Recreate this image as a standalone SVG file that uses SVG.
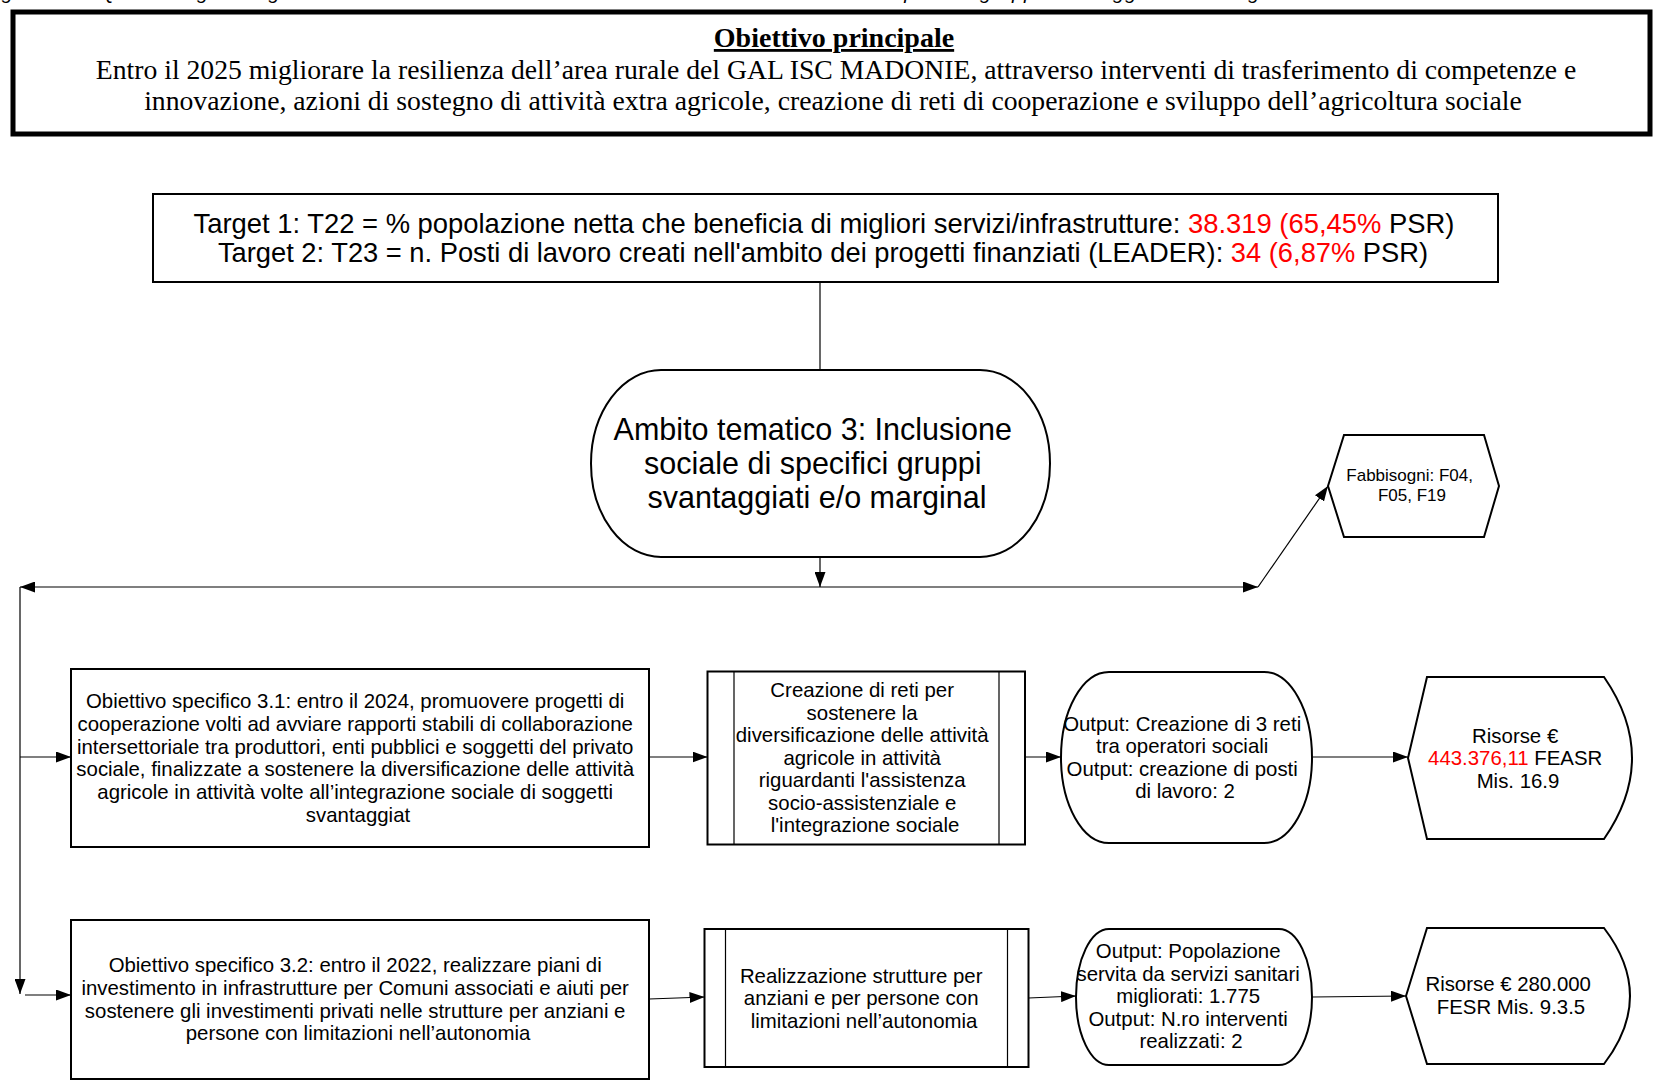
<svg xmlns="http://www.w3.org/2000/svg" width="1654" height="1081" viewBox="0 0 1654 1081">
<style>
.box{fill:#fff;stroke:#000;stroke-width:2}
.ln{fill:none;stroke:#000;stroke-width:1.2}
.conn{fill:none;stroke:#000;stroke-width:1.2;marker-end:url(#arr)}
.serif{font-family:"Liberation Serif","Times New Roman",serif;fill:#000}
.sans{font-family:"Liberation Sans",Arial,sans-serif;fill:#000}
.t20{font-size:20.4px}
.red{fill:#ff0000}
</style>
<defs>
<marker id="arr" viewBox="0 0 15 11" refX="15" refY="5.5" markerWidth="15" markerHeight="11" markerUnits="userSpaceOnUse" orient="auto">
<path d="M0,0 L15,5.5 L0,11 Z" fill="#000"/>
</marker>
</defs>
<rect width="1654" height="1081" fill="#fff"/>

<text x="-17" y="-1" class="sans" font-style="italic" font-size="20" textLength="1317" lengthAdjust="spacing">Figura 11 – Quadro logico degli interventi relativi all’Ambito tematico 3: Inclusione sociale di specifici gruppi svantaggiati e/o marginali</text>

<g id="obiettivo-principale">
<rect x="13" y="12" width="1637" height="122" fill="#fff" stroke="#000" stroke-width="5"/>
<text x="834" y="47" class="serif" font-size="28" font-weight="bold" text-anchor="middle" text-decoration="underline">Obiettivo principale</text>
<text x="836" y="78.5" class="serif" font-size="27.7" text-anchor="middle">Entro il 2025 migliorare la resilienza dell’area rurale del GAL ISC MADONIE, attraverso interventi di trasferimento di competenze e</text>
<text x="833" y="109.5" class="serif" font-size="27.7" text-anchor="middle">innovazione, azioni di sostegno di attività extra agricole, creazione di reti di cooperazione e sviluppo dell’agricoltura sociale</text>
</g>

<g id="target">
<rect x="153" y="194" width="1345" height="88" class="box"/>
<text x="824" y="232.5" class="sans" font-size="27.4" text-anchor="middle">Target 1: T22 = % popolazione netta che beneficia di migliori servizi/infrastrutture: <tspan class="red">38.319 (65,45%</tspan> PSR)</text>
<text x="823" y="262" class="sans" font-size="27.3" text-anchor="middle">Target 2: T23 = n. Posti di lavoro creati nell'ambito dei progetti finanziati (LEADER): <tspan class="red">34 (6,87%</tspan> PSR)</text>
</g>

<g id="ambito">
<rect x="591" y="370" width="459" height="187" rx="70" ry="93.5" class="box"/>
<text class="sans" font-size="30.5" text-anchor="middle">
<tspan x="817" y="440">Ambito tematico 3: Inclusione</tspan>
<tspan x="817" y="474">sociale di specifici gruppi</tspan>
<tspan x="817" y="508">svantaggiati e/o marginal</tspan>
</text>
</g>

<g id="fabbisogni">
<path d="M1328,486 L1344,435 L1484,435 L1499,486 L1484,537 L1344,537 Z" class="box"/>
<text class="sans" font-size="17" text-anchor="middle">
<tspan x="1412" y="481">Fabbisogni: F04,</tspan>
<tspan x="1412" y="501">F05, F19</tspan>
</text>
</g>

<g id="obiettivo-3-1">
<rect x="71" y="669" width="578" height="178" class="box"/>
<text class="sans t20" text-anchor="middle">
<tspan x="358" y="708">Obiettivo specifico 3.1: entro il 2024, promuovere progetti di</tspan>
<tspan x="358" y="730.8">cooperazione volti ad avviare rapporti stabili di collaborazione</tspan>
<tspan x="358" y="753.6">intersettoriale tra produttori, enti pubblici e soggetti del privato</tspan>
<tspan x="358" y="776.4">sociale, finalizzate a sostenere la diversificazione delle attività</tspan>
<tspan x="358" y="799.2">agricole in attività volte all’integrazione sociale di soggetti</tspan>
<tspan x="358" y="822">svantaggiat</tspan>
</text>
</g>

<g id="intervento-3-1">
<rect x="707.5" y="671.5" width="317.5" height="173" class="box"/>
<path d="M734,671.5 V844.5 M999,671.5 V844.5" class="ln" stroke-width="2"/>
<text class="sans t20" text-anchor="middle">
<tspan x="865" y="697">Creazione di reti per</tspan>
<tspan x="865" y="719.5">sostenere la</tspan>
<tspan x="865" y="742">diversificazione delle attività</tspan>
<tspan x="865" y="764.5">agricole in attività</tspan>
<tspan x="865" y="787">riguardanti l'assistenza</tspan>
<tspan x="865" y="809.5">socio-assistenziale e</tspan>
<tspan x="865" y="832">l'integrazione sociale</tspan>
</text>
</g>

<g id="output-3-1">
<rect x="1061" y="672" width="251" height="171" rx="48" ry="85.5" class="box"/>
<text class="sans t20" text-anchor="middle">
<tspan x="1185" y="730.5">Output: Creazione di 3 reti</tspan>
<tspan x="1185" y="753">tra operatori sociali</tspan>
<tspan x="1185" y="775.5">Output: creazione di posti</tspan>
<tspan x="1185" y="798">di lavoro: 2</tspan>
</text>
</g>

<g id="risorse-3-1">
<path d="M1408,758 L1427,677 L1604,677 Q1660,758 1604,839 L1427,839 Z" class="box"/>
<text class="sans t20" text-anchor="middle">
<tspan x="1518" y="742.5">Risorse €</tspan>
<tspan x="1518" y="765"><tspan class="red">443.376,11</tspan> FEASR</tspan>
<tspan x="1518" y="788">Mis. 16.9</tspan>
</text>
</g>

<g id="obiettivo-3-2">
<rect x="71" y="920" width="578" height="159" class="box"/>
<text class="sans t20" text-anchor="middle">
<tspan x="358" y="972">Obiettivo specifico 3.2: entro il 2022, realizzare piani di</tspan>
<tspan x="358" y="994.8">investimento in infrastrutture per Comuni associati e aiuti per</tspan>
<tspan x="358" y="1017.6">sostenere gli investimenti privati nelle strutture per anziani e</tspan>
<tspan x="358" y="1040.4">persone con limitazioni nell’autonomia</tspan>
</text>
</g>

<g id="intervento-3-2">
<rect x="704.5" y="929" width="324" height="138" class="box"/>
<path d="M725.5,929 V1067 M1007.5,929 V1067" class="ln" stroke-width="2"/>
<text class="sans t20" text-anchor="middle">
<tspan x="864" y="982.5">Realizzazione strutture per</tspan>
<tspan x="864" y="1005">anziani e per persone con</tspan>
<tspan x="864" y="1027.5">limitazioni nell’autonomia</tspan>
</text>
</g>

<g id="output-3-2">
<rect x="1076" y="929" width="236" height="136" rx="33" ry="68" class="box"/>
<text class="sans t20" text-anchor="middle">
<tspan x="1191" y="958">Output: Popolazione</tspan>
<tspan x="1191" y="980.5">servita da servizi sanitari</tspan>
<tspan x="1191" y="1003">migliorati: 1.775</tspan>
<tspan x="1191" y="1025.5">Output: N.ro interventi</tspan>
<tspan x="1191" y="1048">realizzati: 2</tspan>
</text>
</g>

<g id="risorse-3-2">
<path d="M1406,996 L1427,928 L1604,928 Q1656,996 1604,1064 L1427,1064 Z" class="box"/>
<text class="sans t20" text-anchor="middle">
<tspan x="1511" y="991">Risorse € 280.000</tspan>
<tspan x="1511" y="1013.5">FESR Mis. 9.3.5</tspan>
</text>
</g>

<g id="connectors">
<path d="M820,282 V370" class="ln"/>
<path d="M820,557 V587" class="conn"/>
<path d="M820,587 H20" class="conn"/>
<path d="M820,587 H1258" class="conn"/>
<path d="M1258,587 L1328,486" class="conn"/>
<path d="M20,587 V994" class="conn"/>
<path d="M20,757 H71" class="conn"/>
<path d="M25,995 H71" class="conn"/>
<path d="M649,757 H707.5" class="conn"/>
<path d="M1025,757 H1061" class="conn"/>
<path d="M1312,757 H1408" class="conn"/>
<path d="M649,999 L704.5,997" class="conn"/>
<path d="M1028.5,998 L1076,996" class="conn"/>
<path d="M1312,997 L1406,996" class="conn"/>
</g>
</svg>
